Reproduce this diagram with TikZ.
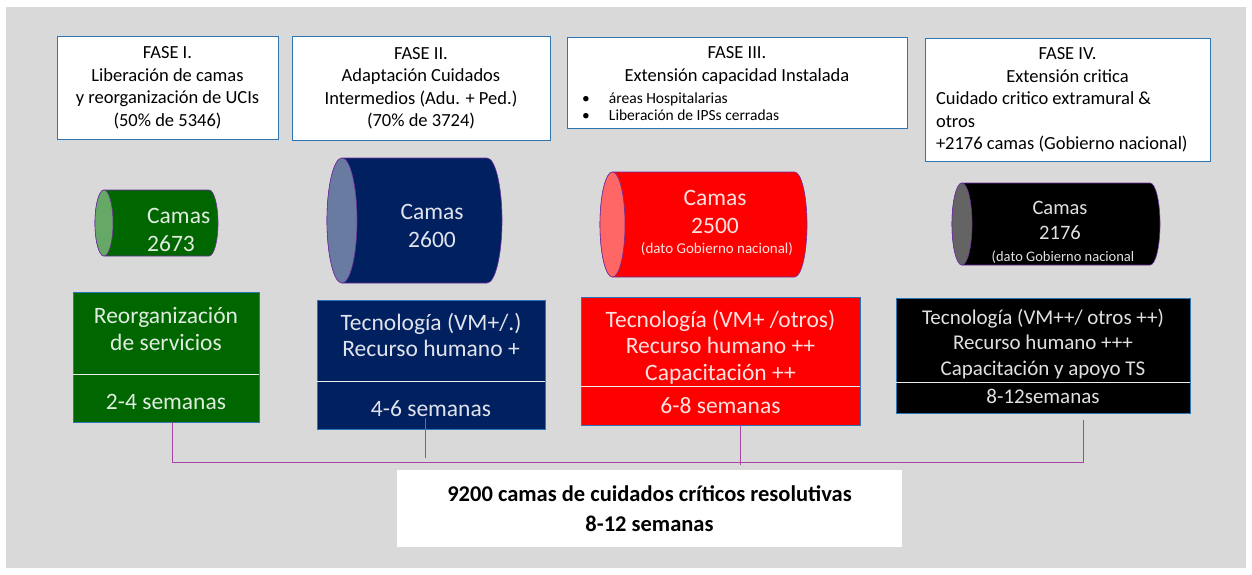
\documentclass[tikz,border=0pt]{standalone}
\usepackage{fontspec}
\setmainfont{Carlito}
\usetikzlibrary{positioning}
\definecolor{bggray}{RGB}{217,217,217}
\definecolor{frameblue}{RGB}{46,117,182}
\definecolor{darkgreen}{RGB}{0,102,0}
\definecolor{facegreen}{RGB}{102,168,102}
\definecolor{navy}{RGB}{0,32,96}
\definecolor{facenavy}{RGB}{106,123,162}
\definecolor{brightred}{RGB}{255,0,0}
\definecolor{facered}{RGB}{255,102,102}
\definecolor{faceblack}{RGB}{100,100,100}
\definecolor{rimpurple}{RGB}{112,48,160}
\definecolor{linkpurple}{RGB}{165,70,165}

% left, right, top, bottom, end radius, body colour, face colour
\newcommand{\bedcyl}[7]{%
  \pgfmathsetmacro{\cymid}{(#3+#4)/2}%
  \pgfmathsetmacro{\cyry}{(#4-#3)/2}%
  \filldraw [fill=#6,draw=rimpurple,line width=0.6pt] (#1+#5,#3) -- (#2-#5,#3)
    arc [start angle=-90,end angle=90,x radius=#5,y radius=\cyry] -- (#1+#5,#4)
    arc [start angle=90,end angle=270,x radius=#5,y radius=\cyry] -- cycle;
  \filldraw [fill=#7,draw=rimpurple,line width=0.6pt] (#1+#5,\cymid) ellipse [x radius=#5,y radius=\cyry];
}

\begin{document}
\begin{tikzpicture}[x=1pt,y=-1pt,
  fasebox/.style={draw=frameblue,line width=1pt,fill=white,inner xsep=7pt,inner ysep=2pt,
    font=\fontsize{18.5}{22.5}\selectfont},
  panel/.style={inner sep=0pt,outer sep=0pt},
  stagetxt/.style={inner sep=0pt,align=center,text=white,text opacity=0.88,
    font=\fontsize{23.5}{26.5}\selectfont},
  frameline/.style={draw=frameblue,line width=0.8pt},
  divline/.style={draw=white!85!gray,line width=1pt},
  cyltxt/.style={inner sep=0pt,align=center,text=white,text opacity=0.88,
    font=\fontsize{23.5}{28}\selectfont},
  cylnote/.style={cyltxt,font=\fontsize{15}{18}\selectfont},
  link/.style={draw=linkpurple,line width=0.9pt},
]
\useasboundingbox (0,0) rectangle (1252,575);
\fill [bggray] (6,7) rectangle (1246,568);

%% phases
\node [fasebox,minimum width=221,minimum height=102,align=center] (f1) at (167.5,88)
  {FASE I.\\Liberación de camas\\ y reorganización de UCIs\\(50\% de 5346)};
\node [fasebox,minimum width=258,minimum height=103,align=center] (f2) at (421,88.5)
  {FASE II.\\Adaptación Cuidados\\Intermedios (Adu. + Ped.)\\(70\% de 3724)};
\node [fasebox,minimum width=340,minimum height=91] (f3) at (737,83.5)
  {\begin{minipage}{326pt}
   \centering FASE III.\\Extensión capacidad Instalada\par\vspace{5pt}
   \raggedright\fontsize{15.5}{17}\selectfont
   \makebox[35pt][l]{\hspace{8pt}\textbullet}áreas Hospitalarias\\
   \makebox[35pt][l]{\hspace{8pt}\textbullet}Liberación de IPSs cerradas\par
   \end{minipage}};
\node [fasebox,minimum width=285,minimum height=123,inner xsep=11pt] (f4) at (1067.5,100)
  {\begin{minipage}{263pt}
   {\centering FASE IV.\\Extensión critica\par}
   \raggedright Cuidado critico extramural \&\\otros\\+2176 camas (Gobierno nacional)\par
   \end{minipage}};

%% beds
\bedcyl{95}{218}{190}{256}{9}{darkgreen}{facegreen}
\bedcyl{327}{502}{158}{283}{15}{navy}{facenavy}
\bedcyl{600}{807}{172}{277}{12.5}{brightred}{facered}
\bedcyl{952}{1160}{183}{265}{10}{black}{faceblack}
\node [cyltxt,align=left,anchor=west] (c1txt) at (147,229.5) {Camas\\2673};
\node [cyltxt] (c2txt) at (432,226) {Camas\\ 2600};
\node [cyltxt] (c3txt) at (715,212) {Camas\\2500};
\node [cylnote] (c3note) at (717,249.5) {(dato Gobierno nacional)};
\node [cyltxt,font=\fontsize{20.5}{25}\selectfont] (c4txt) at (1060,220.5) {Camas\\ 2176};
\node [cylnote,font=\fontsize{14.5}{17}\selectfont] (c4note) at (1063,257) {(dato Gobierno nacional};

%% resources and weeks
% green
\node [panel,fill=darkgreen,minimum width=186,minimum height=82] (r1top) at (166,333) {};
\node [panel,fill=darkgreen,minimum width=186,minimum height=48,below=0pt of r1top] (r1bot) {};
\node [stagetxt] (r1txt) at (166,329) {Reorganización\\de servicios};
\node [stagetxt] (r1wk) at (166,402) {2-4 semanas};
% blue
\node [panel,fill=navy,minimum width=228,minimum height=81] (r2top) at (431,340.5) {};
\node [panel,fill=navy,minimum width=228,minimum height=48,below=0pt of r2top] (r2bot) {};
\node [stagetxt] (r2txt) at (431,335) {Tecnología (VM+/.)\\Recurso humano +};
\node [stagetxt] (r2wk) at (431,409) {4-6 semanas};
% red
\node [panel,fill=brightred,minimum width=279,minimum height=89] (r3top) at (720.5,341.5) {};
\node [panel,fill=brightred,minimum width=279,minimum height=39,below=0pt of r3top] (r3bot) {};
\node [stagetxt] (r3txt) at (720.5,347) {Tecnología (VM+ /otros)\\Recurso humano ++\\Capacitación ++};
\node [stagetxt] (r3wk) at (720.5,405.5) {6-8 semanas};
% black
\node [panel,fill=black,minimum width=294,minimum height=84] (r4top) at (1043,340) {};
\node [panel,fill=black,minimum width=294,minimum height=31,below=0pt of r4top] (r4bot) {};
\node [stagetxt,font=\fontsize{21}{25.5}\selectfont] (r4txt) at (1043,344)
  {Tecnología (VM++/ otros ++)\\Recurso humano +++\\Capacitación y apoyo TS};
\node [stagetxt,font=\fontsize{21}{25.5}\selectfont] (r4wk) at (1043,396) {8-12semanas};
% frames
\foreach \s in {1,2,3,4} {
  \draw [frameline] (r\s top.north west) rectangle (r\s bot.south east);
  \draw [divline] (r\s top.south west) -- (r\s top.south east);
}

%% links
\coordinate (j1) at (172,462);
\coordinate (j2) at (425,458);
\coordinate (j3) at (740,465);
\coordinate (j4) at (1083,462);
\coordinate (s2) at (425,418);
\coordinate (s4) at (1083,420);
\draw [link] (j1 |- r1bot.south) -- (j1) -- (j4) -- (s4);
\draw [link] (s2) -- (j2);
\draw [link] (j3 |- r3bot.south) -- (j3);

%% total
\node [fill=white,minimum width=505,minimum height=77,align=center,
  font=\fontsize{22.5}{30}\selectfont\bfseries] (total) at (649.5,508.5)
  {9200 camas de cuidados críticos resolutivas\\8-12 semanas};

\end{tikzpicture}
\end{document}
